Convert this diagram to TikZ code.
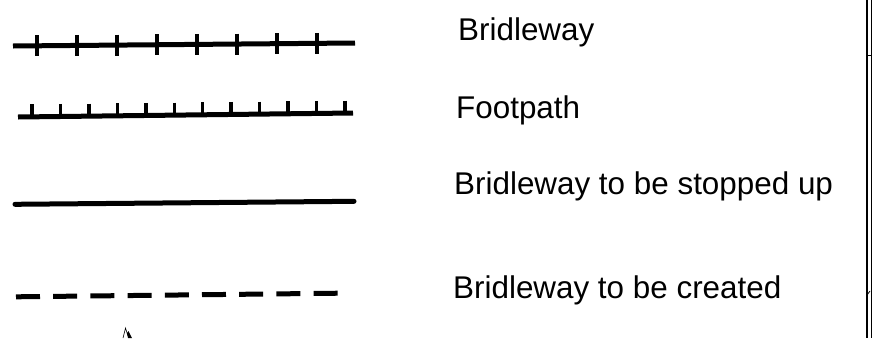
\documentclass[tikz,border=0pt]{standalone}
\usepackage{fontspec}
\setmainfont{Liberation Sans}
\begin{document}
\begin{tikzpicture}[x=1pt,y=-1pt,
  lbl/.style={anchor=base west,inner sep=0pt,font=\fontsize{31.4}{37}\selectfont},
  heavy/.style={line width=5pt},
  tickmark/.style={line width=3.8pt},
  thin/.style={line width=1.6pt}]
\useasboundingbox (0,0) rectangle (874,338);
% Bridleway symbol
\coordinate (b1) at (13,46); \coordinate (b2) at (355,43);
\draw[heavy] (b1) -- (b2);
\foreach \k in {0,...,7}{
  \pgfmathsetmacro{\xx}{37+40*\k}
  \pgfmathsetmacro{\yy}{46-3*(\xx-13)/342}
  \draw[tickmark] (\xx,\yy-10.5) -- (\xx,\yy+10.5);
}
% Footpath symbol
\coordinate (f1) at (18,117); \coordinate (f2) at (353,113);
\draw[heavy] (f1) -- (f2);
\foreach \k in {0,...,11}{
  \pgfmathsetmacro{\xx}{32+28.45*\k}
  \pgfmathsetmacro{\yy}{117-4*(\xx-18)/335}
  \draw[tickmark,line width=3.4pt] (\xx,\yy-12.5) -- (\xx,\yy);
}
% Stopped up
\coordinate (s1) at (15,204.3); \coordinate (s2) at (354,201.3);
\draw[heavy,line cap=round] (s1) -- (s2);
% To be created
\coordinate (c1) at (16,296.8); \coordinate (c2) at (339,293.2);
\draw[heavy,dash pattern=on 24pt off 13.2pt] (c1) -- (c2);
% Labels
\node[lbl] (tb) at (458,40) {Bridleway};
\node[lbl] (tf) at (456,118) {Footpath};
\node[lbl] (ts) at (454,194) {Bridleway to be stopped up};
\node[lbl] (tc) at (453,298) {Bridleway to be created};
% right frame double line
\coordinate (r1t) at (866.7,0); \coordinate (r1b) at (866.7,338);
\coordinate (r2t) at (871.3,0); \coordinate (r2b) at (871.3,338);
\draw[thin] (r1t) -- (r1b);
\draw[thin] (r2t) -- (r2b);
\draw[line width=1.2pt] (868,55.5) -- (871,55.5);
\draw[line width=0.8pt] (867,295) -- (870,291);
% small mark at bottom
\draw[line width=0.6pt] (123,338) -- (125.5,328) -- (128,336);
\fill (127,333) -- (128.5,331) -- (132,338) -- (128,338) -- cycle;
\end{tikzpicture}
\end{document}
